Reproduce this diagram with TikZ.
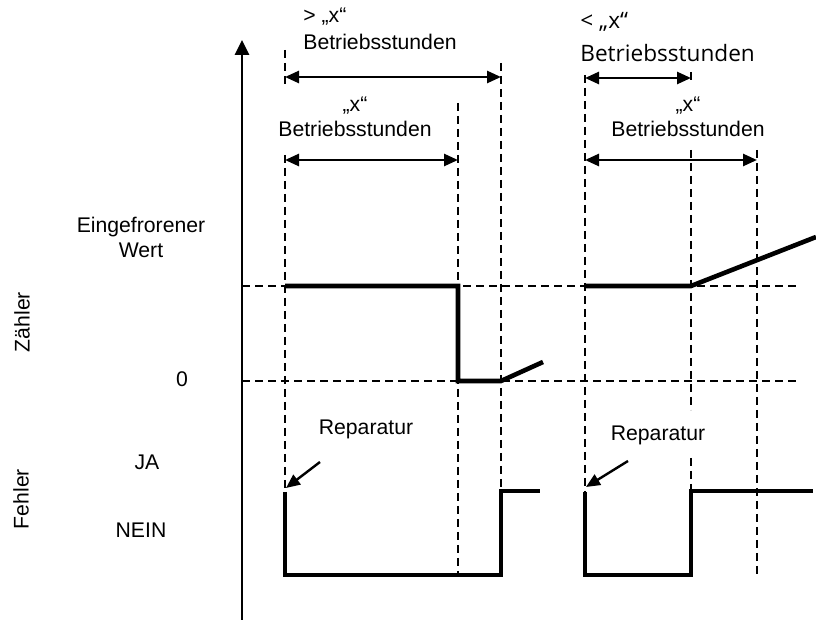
\documentclass[tikz,border=0pt]{standalone}
\usepackage{fontspec}
\setmainfont{Liberation Sans}
\newfontfamily\opensans{Open Sans}
\usetikzlibrary{arrows.meta,positioning,calc}
\tikzset{
    axis/.style    = {-{Triangle[length=7.5pt,width=7pt]}, line width=1.4pt},
    guide/.style   = {line width=0.9pt, dash pattern=on 4pt off 2.5pt},
    countwave/.style = {line width=2.3pt, line join=miter},
    faultwave/.style = {line width=1.7pt, line join=miter},
    span/.style    = {{Triangle[length=7pt,width=6pt]}-{Triangle[length=7pt,width=6pt]}, line width=1.3pt},
    pointer/.style = {-{Triangle[length=7pt,width=6pt]}, line width=1.2pt},
    lbl/.style     = {inner sep=0pt, align=center, font=\fontsize{10.6}{12.5}\selectfont}
}
\begin{document}
\begin{tikzpicture}[x=0.5pt, y=-0.5pt,
    toplbl/.style={lbl, align=left, anchor=north west},
    sidelbl/.style={lbl, rotate=90}
]
    \useasboundingbox (0,0) rectangle (816,625);
    % time marks and levels
    \def\tA{285}
    \def\tB{458}
    \def\tC{501}
    \def\tD{585}
    \def\tE{691}
    \def\tF{757}
    \def\yF{286}
    \def\yZ{381}
    \def\yJ{491}
    \def\yN{575}
    % axis
    \coordinate (origin) at (242,620);
    \coordinate (top)    at (242,40);
    \draw[axis] (origin) -- (top);
    % guide lines
    \draw[guide] (242,\yF) -- (798,\yF);
    \draw[guide] (242,\yZ) -- (798,\yZ);
    \draw[guide] (\tA,50) -- (\tA,88);
    \draw[guide] (\tA,155) -- (\tA,\yN);
    \draw[guide] (\tB,103) -- (\tB,\yN);
    \draw[guide] (\tC,63) -- (\tC,\yN);
    \draw[guide] (\tD,75) -- (\tD,\yN);
    \draw[guide] (\tE,72) -- (\tE,80);
    \draw[guide] (\tE,150) -- (\tE,410);
    \draw[guide] (\tE,458) -- (\tE,\yN);
    \draw[guide] (\tF,150) -- (\tF,\yN);
    % labels
    \node[lbl] (frozen) at (141,237) {Eingefrorener\\Wert};
    \node[lbl] (zero)   at (182,379) {0};
    \node[lbl] (yes)    at (147,462) {JA};
    \node[lbl] (no)     at (141,530) {NEIN};
    \node[sidelbl] (counter) at (22,322) {Zähler};
    \node[sidelbl] (fault)   at (21,499) {Fehler};
    \node[toplbl, font=\fontsize{10.6}{13.5}\selectfont] (moreL) at (303,8) {> „x“\\Betriebsstunden};
    \node[lbl, anchor=north] (hoursL) at (355,97) {„x“\\Betriebsstunden};
    \node[toplbl, font=\opensans\fontsize{11.3}{16.5}\selectfont] (lessR) at (580,12) {< „x“\\Betriebsstunden};
    \node[lbl, anchor=north] (hoursR) at (688,97) {„x“\\Betriebsstunden};
    \node[lbl] (repL) at (366,429) {Reparatur};
    \node[lbl] (repR) at (658,435) {Reparatur};
    % hour spans
    \coordinate (longA)  at (\tA,77);  \coordinate (longB)  at (\tC,77);
    \coordinate (spanA)  at (\tA,160); \coordinate (spanB)  at (\tB,160);
    \coordinate (shortA) at (\tD,78);  \coordinate (shortB) at (\tE,78);
    \coordinate (spanC)  at (\tD,160); \coordinate (spanD)  at (\tF,160);
    \draw[span] (longA) -- (longB);
    \draw[span] (spanA) -- (spanB);
    \draw[span] (shortA) -- (shortB);
    \draw[span] (spanC) -- (spanD);
    % repair pointers
    \coordinate (repLtail) at (320,462); \coordinate (repLtip) at (\tA+1,488);
    \coordinate (repRtail) at (628,461); \coordinate (repRtip) at (\tD+1,487);
    \draw[pointer] (repLtail) -- (repLtip);
    \draw[pointer] (repRtail) -- (repRtip);
    % counter
    \draw[countwave] (\tA,\yF) -- (\tB,\yF) -- (\tB,\yZ) -- (\tC,\yZ) -- (543,362);
    \draw[countwave] (\tD,\yF) -- (\tE,\yF) -- (816,237);
    % fault flag
    \draw[faultwave] (\tA,492) -- (\tA,\yN) -- (\tC,\yN) -- (\tC,\yJ) -- (540,\yJ);
    \draw[faultwave] (\tD,492) -- (\tD,\yN) -- (\tE,\yN) -- (\tE,\yJ) -- (813,\yJ);
\end{tikzpicture}
\end{document}
